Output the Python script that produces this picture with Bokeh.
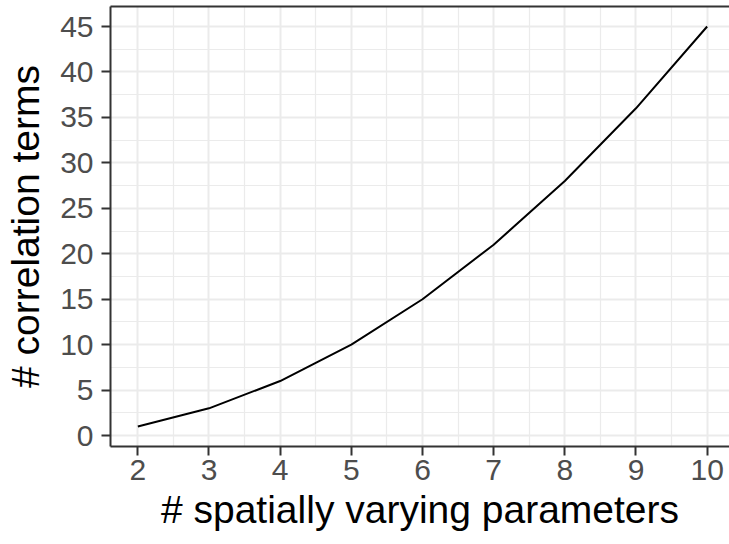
from bokeh.plotting import figure
from bokeh.models import Range1d, FixedTicker, LinearAxis
from bokeh.embed import file_html
from bokeh.resources import INLINE

n_params = [2, 3, 4, 5, 6, 7, 8, 9, 10]
n_terms = [1, 3, 6, 10, 15, 21, 28, 36, 45]
x_ticks = [2, 3, 4, 5, 6, 7, 8, 9, 10]
x_minor = [1.5, 2.5, 3.5, 4.5, 5.5, 6.5, 7.5, 8.5, 9.5, 10.5]
y_ticks = [0, 5, 10, 15, 20, 25, 30, 35, 40, 45]
y_minor = [-2.5, 2.5, 7.5, 12.5, 17.5, 22.5, 27.5, 32.5, 37.5, 42.5, 47.5]

p = figure(width=729, height=544, output_backend="svg", toolbar_location=None,
           x_range=Range1d(1.616, 10.314), y_range=Range1d(-1.2, 47.2),
           min_border_left=110, min_border_right=0, min_border_top=6, min_border_bottom=98)

p.line(n_params, n_terms, line_color="black", line_width=2)

p.background_fill_color = "white"
p.border_fill_color = "white"
p.outline_line_color = None

for ax, ticks in ((p.xaxis, x_ticks), (p.yaxis, y_ticks)):
    ax.ticker = FixedTicker(ticks=ticks)
    ax.axis_line_color = "#333333"
    ax.axis_line_width = 2
    ax.major_tick_line_color = "#333333"
    ax.major_tick_line_width = 2
    ax.major_tick_out = 9
    ax.major_tick_in = 0
    ax.minor_tick_line_color = None
    ax.major_label_text_font = "Liberation Sans"
    ax.major_label_text_font_size = "30px"
    ax.major_label_text_color = "#4D4D4D"
    ax.axis_label_text_font = "Liberation Sans"
    ax.axis_label_text_font_size = "39px"
    ax.axis_label_text_font_style = "normal"
    ax.axis_label_text_color = "black"

p.xaxis.major_label_standoff = 4
p.xaxis.axis_label_standoff = 5
p.yaxis.major_label_standoff = 8
p.yaxis.axis_label_standoff = 10

p.xaxis.axis_label = "# spatially varying parameters"
p.yaxis.axis_label = "# correlation terms"

# top panel border (right side is cropped in the reference)
top = LinearAxis(ticker=FixedTicker(ticks=[]), axis_line_color="#333333", axis_line_width=2,
                 major_tick_line_color=None, minor_tick_line_color=None,
                 major_label_text_font_size="0px", major_label_standoff=0)
p.add_layout(top, "above")

p.xgrid.ticker = FixedTicker(ticks=x_ticks, minor_ticks=x_minor)
p.ygrid.ticker = FixedTicker(ticks=y_ticks, minor_ticks=y_minor)
for g in (p.xgrid, p.ygrid):
    g.grid_line_color = "#EBEBEB"
    g.grid_line_width = 2
    g.minor_grid_line_color = "#EBEBEB"
    g.minor_grid_line_width = 1.2

open("out.html", "w").write(file_html(p, INLINE))
